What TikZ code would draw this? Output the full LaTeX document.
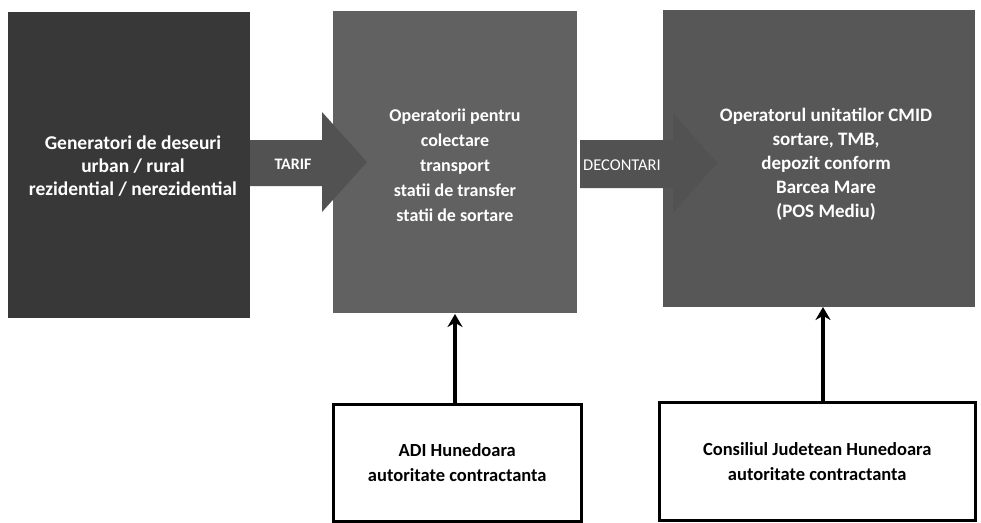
\documentclass[tikz,border=0pt]{standalone}
\usepackage{fontspec}
\setmainfont{Carlito}
\usetikzlibrary{arrows.meta}
\begin{document}
\begin{tikzpicture}[x=1pt,y=-1pt,
  darkbox/.style={draw=none, inner sep=0pt, text=white, align=center},
  whitebox/.style={draw=black, line width=2.5pt, fill=white, inner sep=0pt, align=center, font=\bfseries\fontsize{18.5}{25}\selectfont},
  blockarrow/.style={fill=black!68, draw=none},
  arlabel/.style={text=white, inner sep=0pt},
  uparrow/.style={line width=3.2pt, -{Stealth[length=13pt,width=15pt]}}
]
\useasboundingbox (0,0) rectangle (981,522);
\fill[white] (0,0) rectangle (981,522);
% dark boxes
\node[darkbox, fill=black!78, minimum width=242, minimum height=306, anchor=north west] (gen) at (8,12) {};
\node[darkbox, font=\bfseries\fontsize{19.5}{23}\selectfont] (gentext) at (133,166)
  {Generatori de deseuri\\urban / rural\\rezidential / nerezidential};
\node[darkbox, fill=black!62, minimum width=244, minimum height=302, anchor=north west] (op) at (333,11) {};
\node[darkbox, font=\bfseries\fontsize{18}{25}\selectfont] (optext) at (455,165)
  {Operatorii pentru\\colectare\\transport\\statii de transfer\\statii de sortare};
\node[darkbox, fill=black!66, minimum width=312, minimum height=297, anchor=north west] (cmid) at (663,10) {};
\node[darkbox, font=\bfseries\fontsize{19}{24}\selectfont] (cmidtext) at (826,164)
  {Operatorul unitatilor CMID\\sortare, TMB,\\depozit conform\\Barcea Mare\\(POS Mediu)};
% block arrows
\fill[blockarrow] (250,140) -- (322,140) -- (322,112) -- (367,162) -- (322,212) -- (322,186) -- (250,186) -- cycle;
\node[arlabel, font=\bfseries\fontsize{16}{19}\selectfont] (tarif) at (293,164) {TARIF};
\fill[blockarrow] (580,140) -- (673,140) -- (673,113) -- (717,163) -- (673,213) -- (673,188) -- (580,188) -- cycle;
\node[arlabel, font=\fontsize{16.5}{19}\selectfont] (decont) at (622,165) {DECONTARI};
% white boxes
\node[whitebox, minimum width=248, minimum height=117, anchor=north west] (adi) at (332,403)
  {ADI Hunedoara\\autoritate contractanta};
\node[whitebox, minimum width=316, minimum height=118, anchor=north west] (cj) at (658,401)
  {Consiliul Judetean Hunedoara\\autoritate contractanta};
% vertical arrows
\draw[uparrow] (adi.north -| 455,0) -- (455,314) coordinate (opin);
\draw[uparrow] (cj.north -| 823,0) -- (823,307) coordinate (cmidin);
\end{tikzpicture}
\end{document}
